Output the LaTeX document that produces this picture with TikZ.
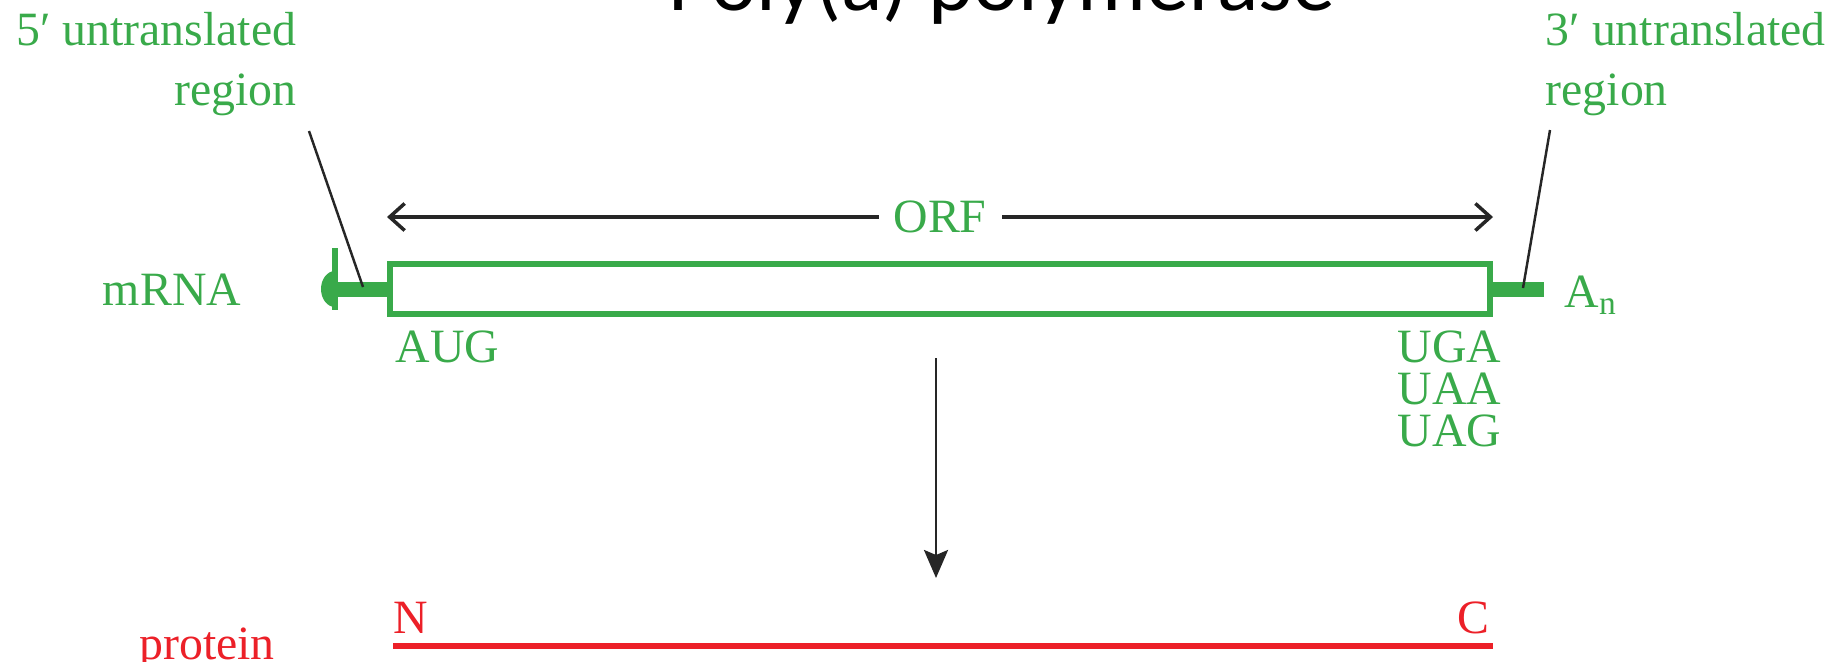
\documentclass[tikz,border=0pt]{standalone}
\usepackage{fontspec}
\setmainfont{Liberation Serif}
\newfontfamily\headfont{Carlito}
\usetikzlibrary{arrows.meta,calc}
\definecolor{rnagreen}{RGB}{57,170,74}
\definecolor{protred}{RGB}{236,32,40}

\begin{document}
\begin{tikzpicture}[>=Stealth]
  \tikzset{lbl/.style={font=\fontsize{13.6}{16.8}\selectfont,text=rnagreen,inner sep=0pt},
    plbl/.style={font=\fontsize{13.6}{16.8}\selectfont,text=protred,inner sep=0pt},
    ptr/.style={line width=0.7pt,black!85},
    stub/.style={rnagreen,line width=0.15cm},
    barb/.tip={Straight Barb[length=0.15cm,width=0.27cm,line width=1pt]}}
  \useasboundingbox (0,0) rectangle (18.48,-6.61);
  \node[font=\headfont\fontsize{24.5}{28}\selectfont,anchor=base,inner sep=0pt] (t) at (10.02,-0.10) {Poly(a) polymerase};
  % mRNA with its open reading frame
  \node[draw=rnagreen,line width=0.06cm,minimum width=11cm,minimum height=0.5cm,inner sep=0pt] (orf) at (9.40,-2.89) {};
  \coordinate (cap) at (3.35,-2.89);
  \coordinate (tail) at (15.44,-2.89);
  \fill[rnagreen] (cap) ++(0,0.18) arc[start angle=90,end angle=270,x radius=0.14,y radius=0.18] -- cycle;
  \draw[rnagreen,line width=0.06cm] ($(cap)+(0,0.41)$) -- ($(cap)+(0,-0.21)$);
  \draw[stub] (cap) -- (orf.west);
  \draw[stub] (orf.east) -- (tail);
  \draw[barb-barb,line width=1pt,black!85]
    ([yshift=0.44cm]orf.north west) -- node[lbl,fill=white,inner xsep=0.15cm]{ORF} ([yshift=0.44cm]orf.north east);
  \node[lbl,anchor=base] (m) at (1.72,-3.05) {mRNA};
  \node[lbl,anchor=base west] (an) at (15.64,-3.07) {A\textsubscript{n}};
  \node[lbl,anchor=base west] (aug) at (3.95,-3.62) {AUG};
  \node[lbl,align=right,anchor=base east,font=\fontsize{13.6}{11.9}\selectfont] (stop) at (15.02,-4.46) {UGA\\UAA\\UAG};
  % untranslated regions
  \node[lbl,align=right,anchor=base east] (u5) at (2.97,-1.05) {5′ untranslated\\region};
  \node[lbl,align=left,anchor=base west] (u3) at (15.45,-1.05) {3′ untranslated\\region};
  \coordinate (u5end) at (3.63,-2.87);
  \coordinate (u3end) at (15.23,-2.88);
  \draw[ptr] ([shift={(0.12,-0.15)}]u5.south east) -- (u5end);
  \draw[ptr] ([shift={(0.05,-0.14)}]u3.south west) -- (u3end);
  % protein
  \coordinate (pn) at (3.93,-6.46);
  \coordinate (pc) at (14.93,-6.46);
  \draw[protred,line width=0.065cm] (pn) -- (pc);
  \node[plbl,anchor=base west] (n) at ($(pn)+(0,0.13)$) {N};
  \node[plbl,anchor=base east] (c) at ($(pc)+(-0.03,0.13)$) {C};
  \node[plbl,anchor=base] (prot) at (2.07,-6.59) {protein};
  \draw[-{Stealth[length=0.28cm,width=0.24cm,inset=0.05cm]},line width=0.8pt,black!85]
    ([shift={(-0.04,-0.41)}]orf.south) -- ([shift={(-0.04,0.68)}]orf.south |- pn);
\end{tikzpicture}
\end{document}
